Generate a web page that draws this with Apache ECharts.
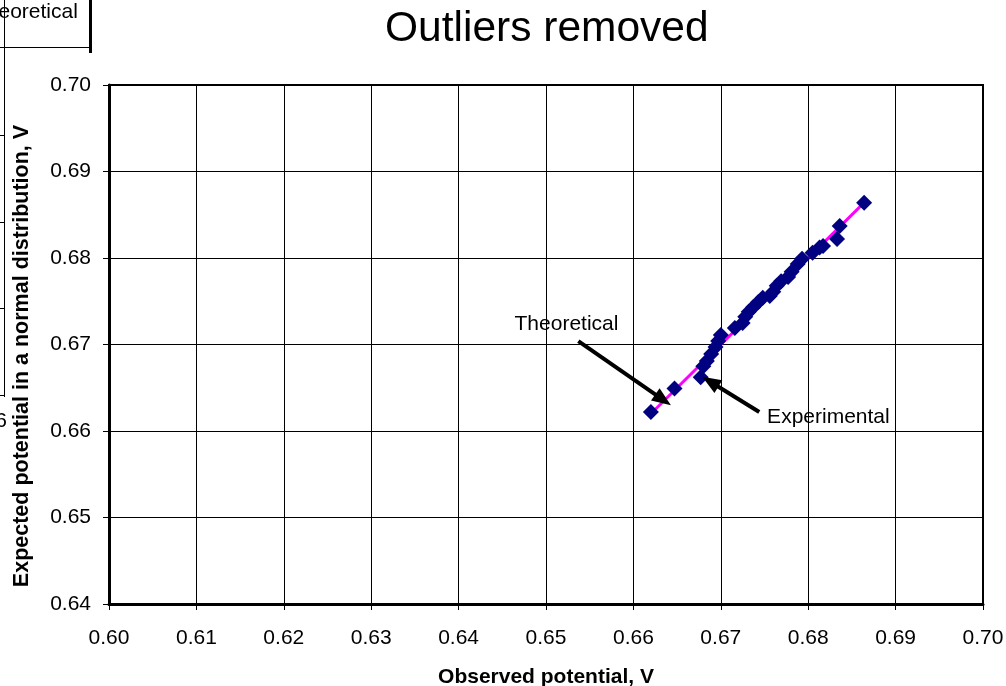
<!DOCTYPE html>
<html>
<head>
<meta charset="utf-8">
<style>
  html, body { margin: 0; padding: 0; background: #fff; overflow: hidden; }
  #chart { width: 1006px; height: 686px; }
</style>
<script src="https://cdn.jsdelivr.net/npm/echarts@6/dist/echarts.min.js"></script>
</head>
<body>
<div id="chart"></div>
<script>
// Observed potential (V) of each retained measurement, sorted
const observed = [
  0.6620, 0.6647, 0.6677, 0.6680, 0.6684, 0.6689, 0.6694, 0.6697, 0.6700,
  0.6716, 0.6725, 0.6728, 0.6732, 0.6737, 0.6743, 0.6748, 0.6756, 0.6760,
  0.6764, 0.6769, 0.6777, 0.6781, 0.6788, 0.6793, 0.6805, 0.6813, 0.6817,
  0.6833, 0.6836, 0.6864
];
// Expected potential (V) for the same rank under a normal distribution
const expected = [
  0.6622, 0.6649, 0.6662, 0.6675, 0.6681, 0.6689, 0.6697, 0.6704, 0.6711,
  0.6719, 0.6725, 0.6732, 0.6738, 0.6743, 0.6749, 0.6754, 0.6756, 0.6761,
  0.6768, 0.6773, 0.6778, 0.6784, 0.6793, 0.6799, 0.6806, 0.6812, 0.6814,
  0.6822, 0.6837, 0.6864
];
// Theoretical line: expected equals observed
const theoryX = [0.6620, 0.6864];
const theoryY = [0.6620, 0.6864];

// Axis ranges and tick step
const xTicks = { min: 0.60, max: 0.70, step: 0.01 };
const yTicks = { min: 0.64, max: 0.70, step: 0.01 };

// Callout labels: text anchor, arrow start, arrow tip (data units)
const calloutNames = ['Theoretical', 'Experimental'];
const calloutText = [[0.6464, 0.6723], [0.6753, 0.6616]];
const calloutFrom = [[0.6537, 0.6704], [0.6744, 0.6622]];
const calloutTo = [[0.6634, 0.6636], [0.6688, 0.6657]];

const FONT = '"Liberation Sans", Arial, sans-serif';

const chart = echarts.init(document.getElementById('chart'), null, { renderer: 'canvas' });

const expPoints = observed.map((x, i) => [x, expected[i]]);
const theoryPoints = theoryX.map((x, i) => [x, theoryY[i]]);

const arrowLines = calloutFrom.map((p, i) => [
  { coord: p, symbol: 'none' },
  { coord: calloutTo[i], symbol: 'triangle', symbolSize: [15, 19] }
]);

const fmt = v => v.toFixed(2);

chart.setOption({
  animation: false,
  backgroundColor: '#ffffff',
  textStyle: { fontFamily: FONT, color: '#000' },
  title: {
    text: 'Outliers removed',
    left: 380,
    top: 3,
    textStyle: { fontFamily: FONT, fontSize: 42.5, fontWeight: 'normal', color: '#000' }
  },
  grid: {
    left: 109, right: 23, top: 85, bottom: 82,
    outerBoundsMode: 'none',
    containLabel: false,
    show: true, borderColor: '#000', borderWidth: 2, backgroundColor: 'transparent'
  },
  xAxis: {
    type: 'value',
    min: xTicks.min, max: xTicks.max, interval: xTicks.step,
    name: 'Observed potential, V',
    nameLocation: 'middle',
    nameGap: 63,
    nameTextStyle: { fontFamily: FONT, fontSize: 21, fontWeight: 'bold', color: '#000' },
    axisLine: { show: true, lineStyle: { color: '#000', width: 3 } },
    axisTick: { show: true, length: 6, lineStyle: { color: '#000', width: 1 } },
    axisLabel: { formatter: fmt, fontFamily: FONT, fontSize: 21, color: '#000', margin: 24 },
    splitLine: { show: true, lineStyle: { color: '#000', width: 1 } }
  },
  yAxis: {
    type: 'value',
    min: yTicks.min, max: yTicks.max, interval: yTicks.step,
    axisLine: { show: true, lineStyle: { color: '#000', width: 3 } },
    axisTick: { show: true, length: 6, lineStyle: { color: '#000', width: 1 } },
    axisLabel: { formatter: fmt, fontFamily: FONT, fontSize: 21, color: '#000', margin: 18 },
    splitLine: { show: true, lineStyle: { color: '#000', width: 1 } }
  },
  series: [
    {
      name: 'Theoretical',
      type: 'line',
      data: theoryPoints,
      symbol: 'none',
      lineStyle: { color: '#ff00ff', width: 3 },
      z: 2,
      markLine: {
        silent: true,
        animation: false,
        label: { show: false },
        lineStyle: { color: '#000', width: 4, type: 'solid' },
        data: arrowLines
      }
    },
    {
      name: 'Experimental',
      type: 'scatter',
      data: expPoints,
      symbol: 'diamond',
      symbolSize: 16,
      itemStyle: { color: '#000080', opacity: 1 },
      z: 3
    }
  ]
});

// Callout captions, positioned from their data coordinates
const captionGraphics = calloutNames.map((name, i) => {
  const p = chart.convertToPixel({ gridIndex: 0 }, calloutText[i]);
  return {
    type: 'text',
    x: p[0], y: p[1],
    z: 10,
    style: {
      text: name,
      font: '21px ' + FONT,
      fill: '#000',
      textAlign: 'left',
      textVerticalAlign: 'middle'
    }
  };
});

// Vertical axis title, set along the left edge
const yTitle = {
  type: 'text',
  x: 22, y: 356,
  rotation: Math.PI / 2,
  z: 10,
  style: {
    text: 'Expected potential in a normal distribution, V',
    font: 'bold 21.5px ' + FONT,
    fill: '#000',
    textAlign: 'center',
    textVerticalAlign: 'middle'
  }
};

// Edge of the neighbouring panel, cut off by the page's left side
const neighbour = [
  { type: 'line', shape: { x1: 4.5, y1: 0, x2: 4.5, y2: 397 }, style: { stroke: '#000', lineWidth: 1 } },
  { type: 'line', shape: { x1: 0, y1: 47.5, x2: 90, y2: 47.5 }, style: { stroke: '#000', lineWidth: 1 } },
  { type: 'line', shape: { x1: 0, y1: 135.5, x2: 5, y2: 135.5 }, style: { stroke: '#000', lineWidth: 1 } },
  { type: 'line', shape: { x1: 0, y1: 222.5, x2: 5, y2: 222.5 }, style: { stroke: '#000', lineWidth: 1 } },
  { type: 'line', shape: { x1: 0, y1: 308.5, x2: 5, y2: 308.5 }, style: { stroke: '#000', lineWidth: 1 } },
  { type: 'line', shape: { x1: 0, y1: 395.5, x2: 5, y2: 395.5 }, style: { stroke: '#000', lineWidth: 1 } },
  { type: 'line', shape: { x1: 90.5, y1: 0, x2: 90.5, y2: 53 }, style: { stroke: '#000', lineWidth: 3 } },
  { type: 'text', x: -26, y: 12, style: { text: 'Theoretical', font: '21px ' + FONT, fill: '#000', textVerticalAlign: 'middle' } },
  { type: 'text', x: 7, y: 421, style: { text: '0.66', font: '21px ' + FONT, fill: '#000', textAlign: 'right', textVerticalAlign: 'middle' } }
];

chart.setOption({ graphic: captionGraphics.concat([yTitle]).concat(neighbour) });
</script>
</body>
</html>
